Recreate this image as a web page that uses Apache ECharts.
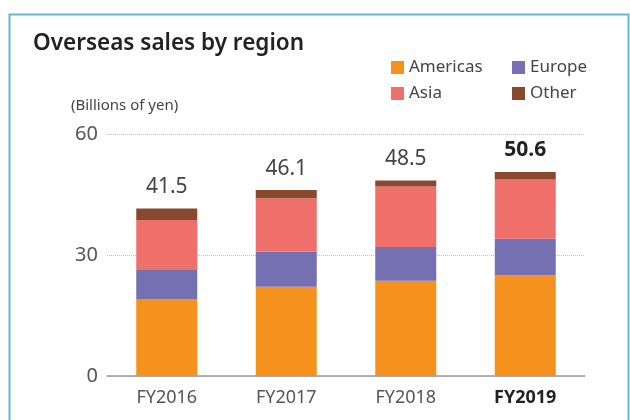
<!DOCTYPE html>
<html><head><meta charset="utf-8">
<script src="https://cdn.jsdelivr.net/npm/echarts@6/dist/echarts.min.js"></script>
<style>html,body{margin:0;padding:0;background:#fff}#c{width:630px;height:420px}</style>
</head><body><div id="c"></div>
<script>
const categories = ['FY2016', 'FY2017', 'FY2018', 'FY2019'];
const americas = [19.1, 22.1, 23.6, 24.9];
const europe = [7.2, 8.7, 8.4, 9.1];
const asia = [12.4, 13.3, 15.0, 14.7];
const other = [2.8, 2.0, 1.5, 1.9];
const totals = [41.5, 46.1, 48.5, 50.6];
const yTicks = [0, 30, 60];

const FONT = 'Noto Sans';
const chart = echarts.init(document.getElementById('c'));
const base = { type: 'bar', stack: 'total', barWidth: 61 };
const legendText = { fontSize: 17, color: '#444', fontFamily: FONT, padding: [0, 0, 0, 0] };
chart.setOption({
  animation: false,
  textStyle: { fontFamily: FONT },
  graphic: [
    { type: 'rect', shape: { x: 9.5, y: 14.5, width: 619, height: 420 }, style: { fill: 'none', stroke: '#66b6d6', lineWidth: 2 } },
    { type: 'text', left: 33, top: 32, style: { text: 'Overseas sales by region', font: '600 22.5px "Noto Sans"', fill: '#222' } },
    { type: 'text', left: 71, top: 98, style: { text: '(Billions of yen)', font: '15px "Noto Sans"', fill: '#444' } }
  ],
  legend: [
    { data: ['Americas', 'Asia'], orient: 'vertical', left: 391, top: 59, padding: 0, itemWidth: 13, itemHeight: 13, itemGap: 9, icon: 'rect', textStyle: legendText },
    { data: ['Europe', 'Other'], orient: 'vertical', left: 512, top: 59, padding: 0, itemWidth: 13, itemHeight: 13, itemGap: 9, icon: 'rect', textStyle: legendText }
  ],
  grid: { left: 107, right: 45, top: 134, bottom: 44, containLabel: false },
  xAxis: {
    type: 'category', data: categories,
    axisLine: { lineStyle: { color: '#999', width: 1.5 } },
    axisTick: { show: false },
    axisLabel: {
      interval: 0, margin: 13, fontSize: 18, color: '#555',
      formatter: (v, i) => i === 3 ? '{b|' + v + '}' : v,
      rich: { b: { fontWeight: 'bold', color: '#222', fontSize: 18 } }
    }
  },
  yAxis: {
    type: 'value', min: 0, max: 60, interval: 30,
    axisLine: { show: false }, axisTick: { show: false },
    axisLabel: { fontSize: 20, color: '#555', margin: 9, formatter: v => yTicks.includes(v) ? String(v) : '' },
    splitLine: { lineStyle: { color: '#c4c4c4', type: [1, 1], width: 1 } }
  },
  series: [
    Object.assign({}, base, { name: 'Americas', data: americas, itemStyle: { color: '#F5921E' } }),
    Object.assign({}, base, { name: 'Europe', data: europe, itemStyle: { color: '#7470B2' } }),
    Object.assign({}, base, { name: 'Asia', data: asia, itemStyle: { color: '#EF6F6B' } }),
    Object.assign({}, base, { name: 'Other', data: other, itemStyle: { color: '#874A2F' },
      label: { show: true, position: 'top', distance: 11, fontSize: 21, color: '#444',
        formatter: p => p.dataIndex === 3 ? '{b|' + totals[p.dataIndex].toFixed(1) + '}' : totals[p.dataIndex].toFixed(1),
        rich: { b: { fontWeight: 'bold', color: '#222', fontSize: 21 } } } })
  ]
});
</script></body></html>
